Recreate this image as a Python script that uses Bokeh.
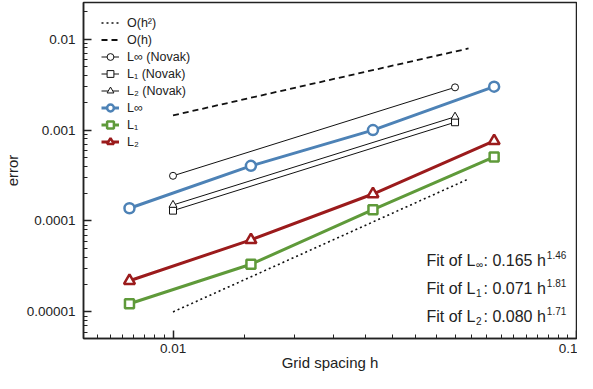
from bokeh.plotting import figure
from bokeh.models import (Range1d, FixedTicker, CustomJSTickFormatter, Legend,
                          LegendItem, Label)
from bokeh.embed import file_html
from bokeh.resources import INLINE

# ---- data ----
h = [0.0078, 0.0156, 0.0313, 0.0625]
err_linf = [1.38e-4, 4.04e-4, 1.0e-3, 3.0e-3]
err_l1 = [1.23e-5, 3.34e-5, 1.33e-4, 5.06e-4]
err_l2 = [2.2e-5, 6.2e-5, 1.98e-4, 7.6e-4]

novak_h = [0.01, 0.05]
novak_linf = [3.14e-4, 2.95e-3]
novak_l1 = [1.30e-4, 1.22e-3]
novak_l2 = [1.50e-4, 1.40e-3]

ref_h = [0.01, 0.054]
ref_oh2 = [1.0e-5, 2.9e-4]
ref_oh = [1.45e-3, 7.9e-3]

fit_norm = ["\u221e", "1", "2"]
fit_coef = ["0.165", "0.071", "0.080"]
fit_exp = ["1.46", "1.81", "1.71"]

x_major = [0.01, 0.1]
y_major = [1e-5, 1e-4, 1e-3, 1e-2]

# ---- styles ----
FONT = "Liberation Sans"
BLUE = "#4d82b6"
GREEN = "#5f9a3a"
RED = "#9b1b1c"
BLACK = "#111111"
AXC = "#222222"

x_minor = [round(k * 0.0005, 5) for k in range(11, 20)] + [round(k * 0.005, 4) for k in range(3, 20)]
y_minor = [m * 10.0 ** e for e in range(-6, -1) for m in range(2, 10)]

p = figure(width=577, height=373, x_axis_type="log", y_axis_type="log",
           x_range=Range1d(0.006, 0.1), y_range=Range1d(5.1e-6, 0.0253),
           output_backend="svg", toolbar_location=None,
           min_border_left=76, min_border_right=1, min_border_top=2, min_border_bottom=0)

p.xgrid.visible = False
p.ygrid.visible = False
p.background_fill_color = "white"
p.border_fill_color = "white"
p.outline_line_color = AXC
p.outline_line_width = 1.5

fmt = CustomJSTickFormatter(code="""
const d = Math.max(0, Math.round(-Math.log10(tick)));
return tick.toFixed(d);
""")

p.xaxis.ticker = FixedTicker(ticks=x_major, minor_ticks=x_minor)
p.yaxis.ticker = FixedTicker(ticks=y_major, minor_ticks=y_minor)
for ax in (p.xaxis[0], p.yaxis[0]):
    ax.formatter = fmt
    ax.axis_line_color = AXC
    ax.axis_line_width = 1.5
    ax.major_tick_in = 8
    ax.major_tick_out = 0
    ax.minor_tick_in = 4
    ax.minor_tick_out = 0
    ax.major_tick_line_color = AXC
    ax.major_tick_line_width = 1.5
    ax.minor_tick_line_color = AXC
    ax.minor_tick_line_width = 1
    ax.major_label_text_font = FONT
    ax.major_label_text_font_size = "13.5px"
    ax.major_label_text_color = "#222222"
    ax.axis_label_text_font = FONT
    ax.axis_label_text_font_size = "15px"
    ax.axis_label_text_font_style = "normal"
    ax.axis_label_text_color = "#222222"

p.xaxis.axis_label = "Grid spacing h"
p.yaxis.axis_label = "error"
p.xaxis.major_label_standoff = 5
p.xaxis.axis_label_standoff = -2
p.yaxis.major_label_standoff = 8
p.yaxis.axis_label_standoff = 3

# reference slopes
r_oh2 = p.line(ref_h, ref_oh2, line_dash="2 3", line_width=1.6, line_color=BLACK)
r_oh = p.line(ref_h, ref_oh, line_dash="6 4", line_width=1.8, line_color=BLACK)

def series(x, y, color, marker, lw, size, mlw):
    ln = p.line(x, y, line_color=color, line_width=lw)
    sc = p.scatter(x, y, marker=marker, size=size, line_color=color,
                   line_width=mlw, fill_color="white")
    return [ln, sc]

nv_inf = series(novak_h, novak_linf, BLACK, "circle", 1, 7, 1)
nv_l1 = series(novak_h, novak_l1, BLACK, "square", 1, 7, 1)
nv_l2 = series(novak_h, novak_l2, BLACK, "triangle", 1, 8, 1)

s_inf = series(h, err_linf, BLUE, "circle", 3, 10, 2.5)
s_l1 = series(h, err_l1, GREEN, "square", 3, 9, 2.5)
s_l2 = series(h, err_l2, RED, "triangle", 3, 11, 2.5)

items = [
    LegendItem(label="O(h\u00b2)", renderers=[r_oh2]),
    LegendItem(label="O(h)", renderers=[r_oh]),
    LegendItem(label="L\u221e (Novak)", renderers=nv_inf),
    LegendItem(label="L\u2081 (Novak)", renderers=nv_l1),
    LegendItem(label="L\u2082 (Novak)", renderers=nv_l2),
    LegendItem(label="L\u221e", renderers=s_inf),
    LegendItem(label="L\u2081", renderers=s_l1),
    LegendItem(label="L\u2082", renderers=s_l2),
]
legend = Legend(items=items, location=(18, 188), margin=0, padding=0, spacing=0,
                glyph_width=18, glyph_height=17, label_height=17, label_standoff=8,
                label_text_font=FONT, label_text_font_size="12.5px",
                label_text_color="#222222",
                border_line_alpha=0, background_fill_alpha=0)
p.add_layout(legend)

# fit annotations (subscripts / superscripts composed from pieces)
W = {'F': 611, 'i': 222, 't': 278, ' ': 278, 'o': 556, 'f': 278, 'L': 556,
     ':': 278, '.': 278, 'h': 556, '\u221e': 713}
for d in "0123456789":
    W[d] = 556

def tw(s, px):
    return sum(W[c] for c in s) * px / 1000.0

BIG, SMALL = 16, 10
x0 = 343
row_y = [78, 50, 22]
sub_x = x0 + tw("Fit of L", BIG) + 0.5
colon_x = sub_x + tw("\u221e", SMALL) + 0.5

def lab(x, y, text, size):
    p.add_layout(Label(x=x, y=y, x_units="screen", y_units="screen", text=text,
                       text_font=FONT, text_font_size=f"{size}px",
                       text_baseline="alphabetic", text_align="left",
                       text_color="#222222"))

for i in range(3):
    y = row_y[i]
    lab(x0, y, "Fit of L", BIG)
    lab(sub_x, y - 4, fit_norm[i], SMALL)
    main = ": " + fit_coef[i] + " h"
    lab(colon_x, y, main, BIG)
    lab(colon_x + tw(main, BIG) + 1, y + 6, fit_exp[i], SMALL)

open("out.html", "w").write(file_html(p, INLINE))
